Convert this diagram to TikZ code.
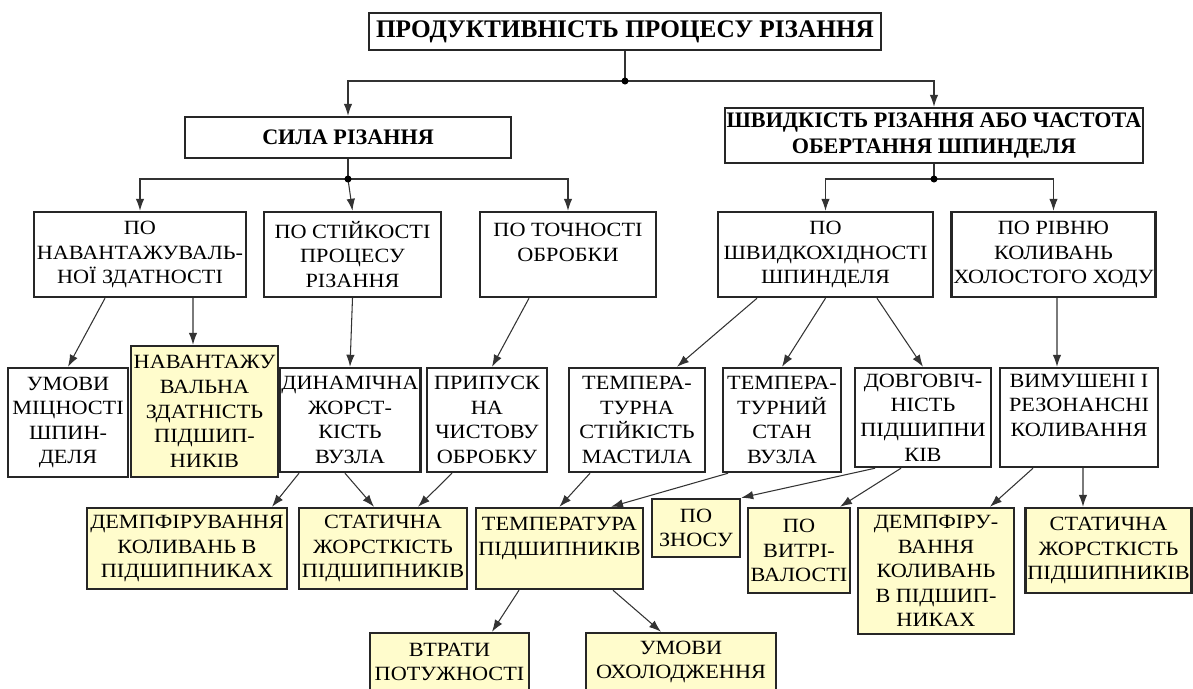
\documentclass[tikz,border=0pt]{standalone}
\usepackage{fontspec}
\setmainfont{Liberation Serif}[FakeStretch=1.1]
\newfontfamily\headfont{Liberation Serif}
\usetikzlibrary{arrows.meta}

\begin{document}
\begin{tikzpicture}[x=0.2mm, y=-0.2mm, font=\fontsize{11.5}{14}\selectfont,
	box/.style={draw=black!85, line width=1.4pt, fill=white, align=center, inner sep=1pt},
	ybox/.style={box, fill=yellow!20},
	head/.style={box, font=\headfont\bfseries\fontsize{12.6}{14.8}\selectfont},
	arr/.style={draw=black!80, line width=0.6pt, -{Latex[length=2.4mm,width=1.7mm]}},
	link/.style={draw=black!80, line width=0.6pt}]
	\path[fill=white, use as bounding box] (0,0) rectangle (1193,689);

	\node[head, font=\headfont\bfseries\fontsize{14.4}{16}\selectfont, minimum width=10.24cm, minimum height=0.74cm] (title) at (625,31.5) {ПРОДУКТИВНІСТЬ ПРОЦЕСУ РІЗАННЯ};
	\node[head, minimum width=6.52cm, minimum height=0.82cm] (sila) at (348,137.5) {СИЛА РІЗАННЯ};
	\node[head, minimum width=8.28cm, minimum height=1.1cm] (shv) at (934,135.5) {ШВИДКІСТЬ РІЗАННЯ АБО ЧАСТОТА\\ОБЕРТАННЯ ШПИНДЕЛЯ};

	\node[box, minimum width=4.24cm, minimum height=1.7cm] (nav) at (140,254.5) {ПО\\НАВАНТАЖУВАЛЬ-\\НОЇ ЗДАТНОСТІ};
	\node[box, minimum width=3.54cm, minimum height=1.7cm] (sti) at (352.5,254.5) {ПО СТІЙКОСТІ\\ПРОЦЕСУ\\РІЗАННЯ};
	\node[box, minimum width=3.52cm, minimum height=1.7cm] (toch) at (568,254.5) {ПО ТОЧНОСТІ\\ОБРОБКИ\\\mbox{}};
	\node[box, minimum width=4.3cm, minimum height=1.7cm] (shvk) at (825.5,254.5) {ПО\\ШВИДКОХІДНОСТІ\\ШПИНДЕЛЯ};
	\node[box, minimum width=4.06cm, minimum height=1.7cm] (riv) at (1053.5,254.5) {ПО РІВНЮ\\КОЛИВАНЬ\\ХОЛОСТОГО ХОДУ};

	\node[box, minimum width=2.4cm, minimum height=2.18cm] (umovy) at (68,422.5) {УМОВИ\\МІЦНОСТІ\\ШПИН-\\ДЕЛЯ};
	\node[ybox, minimum width=2.94cm, minimum height=2.62cm] (navzd) at (204.5,411.5) {НАВАНТАЖУ\\ВАЛЬНА\\ЗДАТНІСТЬ\\ПІДШИП-\\НИКІВ};
	\node[box, minimum width=2.72cm, minimum height=2.08cm] (dyn) at (350,420) {ДИНАМІЧНА\\ЖОРСТ-\\КІСТЬ\\ВУЗЛА};
	\node[box, minimum width=2.4cm, minimum height=2.08cm] (prip) at (487,420) {ПРИПУСК\\НА\\ЧИСТОВУ\\ОБРОБКУ};
	\node[box, minimum width=2.72cm, minimum height=2.08cm] (tmast) at (637,420) {ТЕМПЕРА-\\ТУРНА\\СТІЙКІСТЬ\\МАСТИЛА};
	\node[box, minimum width=2.36cm, minimum height=2.08cm] (tstan) at (782,420) {ТЕМПЕРА-\\ТУРНИЙ\\СТАН\\ВУЗЛА};
	\node[box, minimum width=2.72cm, minimum height=1.98cm] (dovg) at (923,417.5) {ДОВГОВІЧ-\\НІСТЬ\\ПІДШИПНИ\\КІВ};
	\node[box, minimum width=3.16cm, minimum height=1.98cm] (vym) at (1079,417.5) {ВИМУШЕНІ І\\РЕЗОНАНСНІ\\КОЛИВАННЯ\\\mbox{}};

	\node[ybox, minimum width=4cm, minimum height=1.62cm] (dempf) at (187,548.5) {ДЕМПФІРУВАННЯ\\КОЛИВАНЬ В\\ПІДШИПНИКАХ};
	\node[ybox, minimum width=3.36cm, minimum height=1.62cm] (stat) at (383,548.5) {СТАТИЧНА\\ЖОРСТКІСТЬ\\ПІДШИПНИКІВ};
	\node[ybox, minimum width=3.34cm, minimum height=1.62cm] (temp) at (559.5,548.5) {ТЕМПЕРАТУРА\\ПІДШИПНИКІВ\\\mbox{}};
	\node[ybox, minimum width=1.76cm, minimum height=1.16cm] (znos) at (696,528) {ПО\\ЗНОСУ};
	\node[ybox, minimum width=2.04cm, minimum height=1.7cm] (vytr) at (799,550.5) {ПО\\ВИТРІ-\\ВАЛОСТІ};
	\node[ybox, minimum width=3.12cm, minimum height=2.52cm] (dempfb) at (936,571) {ДЕМПФІРУ-\\ВАННЯ\\КОЛИВАНЬ\\В ПІДШИП-\\НИКАХ};
	\node[ybox, minimum width=3.26cm, minimum height=1.7cm] (statb) at (1108.5,550.5) {СТАТИЧНА\\ЖОРСТКІСТЬ\\ПІДШИПНИКІВ};

	\node[ybox, minimum width=3.18cm, minimum height=1.16cm] (vtr) at (449.5,662) {ВТРАТИ\\ПОТУЖНОСТІ};
	\node[ybox, minimum width=3.8cm, minimum height=1.16cm] (ohol) at (681,662) {УМОВИ\\ОХОЛОДЖЕННЯ};

	\coordinate (d1) at (625,81);
	\coordinate (d2) at (348,179);
	\coordinate (d3) at (934,179);
	\draw[link] (title.south) -- (d1);
	\draw[arr] (d1) -| (sila.north);
	\draw[arr] (d1) -| (shv.north);
	\draw[link] (sila.south) -- (d2);
	\draw[arr] (d2) -| (nav.north);
	\draw[arr] (d2) -- (sti.north);
	\draw[arr] (d2) -| (toch.north);
	\draw[link] (shv.south) -- (d3);
	\draw[arr] (d3) -| (shvk.north);
	\draw[arr] (d3) -| (riv.north);
	\foreach \d in {d1,d2,d3} \fill (\d) circle (2pt);

	\draw[arr] ([xshift=-0.7cm]nav.south) -- (umovy.north);
	\draw[arr] ([xshift=1.06cm]nav.south) -- ([xshift=-0.23cm]navzd.north);
	\draw[arr] (sti.south) -- (dyn.north);
	\draw[arr] ([xshift=-0.78cm]toch.south) -- ([xshift=0.1cm]prip.north);
	\draw[arr] ([xshift=-1.37cm]shvk.south) -- ([xshift=0.8cm]tmast.north);
	\draw[arr] (shvk.south) -- (tstan.north);
	\draw[arr] ([xshift=1.03cm]shvk.south) -- (dovg.north);
	\draw[arr] ([xshift=0.07cm]riv.south) -- ([xshift=-0.44cm]vym.north);

	\draw[arr] ([xshift=-1.02cm]dyn.south) -- ([xshift=1.7cm]dempf.north);
	\draw[arr] ([xshift=-0.1cm]dyn.south) -- ([xshift=-0.18cm]stat.north);
	\draw[arr] ([xshift=-0.7cm]prip.south) -- ([xshift=0.7cm]stat.north);
	\draw[arr] ([xshift=-0.94cm]tmast.south) -- (temp.north);
	\draw[arr] ([xshift=-1.08cm]tstan.south) -- ([xshift=1.03cm]temp.north);
	\draw[arr] ([xshift=-0.96cm]dovg.south) -- (znos.north east);
	\draw[arr] ([xshift=-0.44cm]dovg.south) -- ([xshift=0.82cm]vytr.north);
	\draw[arr] ([xshift=-0.92cm]vym.south) -- ([xshift=1.08cm]dempfb.north);
	\draw[arr] ([xshift=0.08cm]vym.south) -- ([xshift=-0.51cm]statb.north);
	\draw[arr] ([xshift=-0.81cm]temp.south) -- ([xshift=0.85cm]vtr.north);
	\draw[arr] ([xshift=1.07cm]temp.south) -- ([xshift=-0.4cm]ohol.north);
\end{tikzpicture}
\end{document}
